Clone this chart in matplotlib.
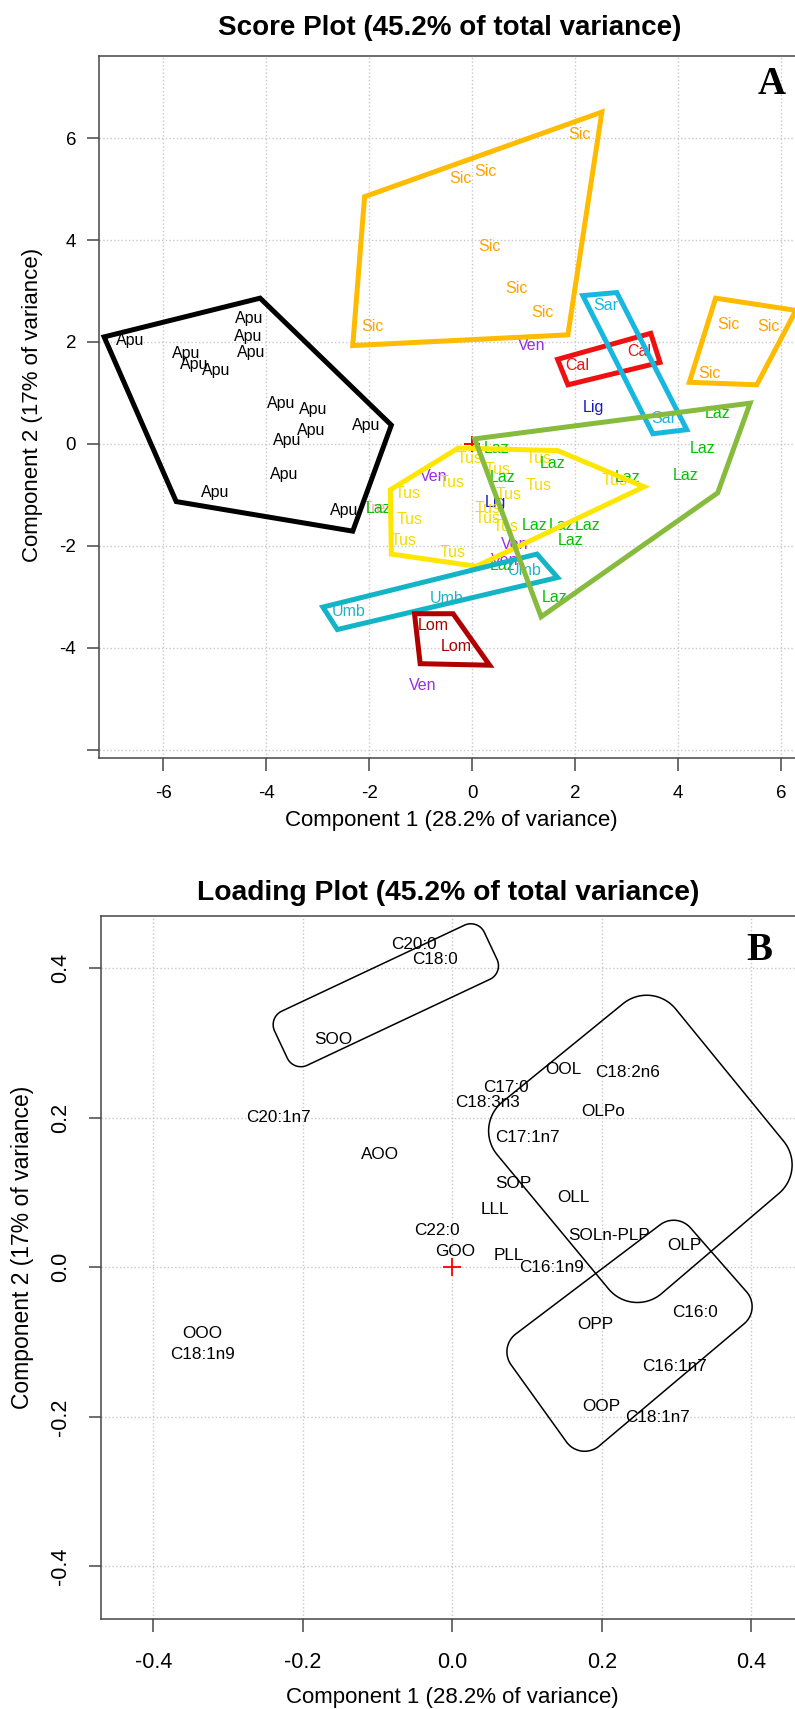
import numpy as np
import matplotlib.pyplot as plt
from matplotlib.patches import Polygon

plt.rcParams['font.family'] = 'Liberation Sans'
plt.rcParams['axes.unicode_minus'] = False

# ---------------- Panel A : score plot ----------------
score_group = (['Apu'] * 15 + ['Sic'] * 10 + ['Sar'] * 2 + ['Cal'] * 2 + ['Tre']
               + ['Ven'] * 5 + ['Lig'] * 2 + ['Tus'] * 14 + ['Laz'] * 14
               + ['Umb'] * 3 + ['Lom'] * 2)
score_x = [-6.65, -4.33, -4.35, -4.29, -5.55, -5.41, -4.97, -3.71, -3.08, -3.13, -3.60, -2.06, -3.66, -5.00, -2.48,
           2.08, -0.22, 0.25, 0.33, 0.86, 1.37, -1.93, 4.98, 5.76, 4.61,
           2.60, 3.73,
           2.05, 3.24,
           -1.90,
           1.15, -0.75, 0.83, 0.63, -0.97,
           2.36, 0.45,
           -0.04, 1.29, 0.50, -0.40, 1.29, 0.70, 2.76, -1.25, -1.21, -1.33, -0.37, 0.31, 0.31, 0.66,
           4.77, 4.47, 4.15, 0.47, 1.57, 0.60, 3.02, 1.21, 1.73, 2.24, 1.92, 0.60, 1.60, -1.82,
           -2.40, -0.50, 1.02,
           -0.75, -0.30]
score_y = [2.03, 2.47, 2.10, 1.80, 1.78, 1.56, 1.44, 0.80, 0.67, 0.26, 0.06, 0.37, -0.59, -0.95, -1.30,
           6.07, 5.20, 5.34, 3.88, 3.05, 2.57, 2.30, 2.34, 2.30, 1.39,
           2.71, 0.49,
           1.53, 1.81,
           -1.26,
           1.94, -0.64, -1.98, -2.28, -4.73,
           0.72, -1.14,
           -0.28, -0.28, -0.50, -0.76, -0.81, -1.00, -0.71, -0.98, -1.49, -1.89, -2.12, -1.26, -1.46, -1.62,
           0.60, -0.09, -0.61, -0.08, -0.39, -0.65, -0.65, -1.60, -1.60, -1.60, -1.90, -2.38, -3.01, -1.26,
           -3.29, -3.03, -2.48,
           -3.57, -3.98]

# group hulls (vertices)
apu_hull_x = [-7.15, -4.12, -1.57, -2.32, -5.75]
apu_hull_y = [2.10, 2.86, 0.37, -1.71, -1.13]
sic_hull_x = [-2.09, 2.52, 1.86, -2.32]
sic_hull_y = [4.85, 6.51, 2.14, 1.93]
sic2_hull_x = [4.73, 6.29, 5.53, 4.22]
sic2_hull_y = [2.86, 2.62, 1.16, 1.21]
tus_hull_x = [-0.27, 1.66, 3.34, 0.08, -1.57, -1.59]
tus_hull_y = [-0.08, -0.13, -0.84, -2.40, -2.16, -0.90]
umb_hull_x = [-2.90, 1.26, 1.66, -2.62]
umb_hull_y = [-3.20, -2.16, -2.62, -3.64]
lom_hull_x = [-1.12, -0.37, 0.34, -1.01]
lom_hull_y = [-3.33, -3.33, -4.34, -4.31]
cal_hull_x = [1.66, 3.47, 3.65, 1.86]
cal_hull_y = [1.66, 2.17, 1.60, 1.16]
sar_hull_x = [2.15, 2.81, 4.17, 3.51]
sar_hull_y = [2.91, 2.97, 0.28, 0.20]
laz_hull_x = [0.05, 5.40, 4.77, 1.34]
laz_hull_y = [0.10, 0.80, -0.96, -3.39]

a_ticks = [-6, -4, -2, 0, 2, 4, 6]
a_yticklabels = ['', '-4', '-2', '0', '2', '4', '6']

# ---------------- Panel B : loading plot ----------------
loading_names = ['C20:0', 'C18:0', 'SOO', 'OOL', 'C18:2n6', 'C17:0', 'C18:3n3', 'OLPo', 'C20:1n7',
                 'C17:1n7', 'AOO', 'SOP', 'OLL', 'LLL', 'C22:0', 'SOLn-PLP', 'OLP', 'GOO', 'PLL',
                 'C16:1n9', 'C16:0', 'OPP', 'OOO', 'C18:1n9', 'C16:1n7', 'OOP', 'C18:1n7']
loading_x = [-0.052, -0.023, -0.159, 0.149, 0.235, 0.072, 0.047, 0.202, -0.232,
             0.100, -0.097, 0.081, 0.162, 0.057, -0.020, 0.209, 0.310, 0.004, 0.076,
             0.132, 0.325, 0.191, -0.334, -0.334, 0.297, 0.199, 0.275]
loading_y = [0.432, 0.412, 0.305, 0.265, 0.261, 0.240, 0.220, 0.208, 0.201,
             0.174, 0.151, 0.112, 0.094, 0.078, 0.049, 0.043, 0.029, 0.021, 0.016,
             0.000, -0.060, -0.076, -0.088, -0.117, -0.133, -0.186, -0.2015]

# rounded group outlines (inner corner points, rounded afterwards)
box1_x = [0.0247, 0.0417, -0.2027, -0.2197]
box1_y = [0.4396, 0.4034, 0.2884, 0.3246]
box2_x = [0.260, 0.4045, 0.2475, 0.0985]
box2_y = [0.314, 0.137, 0.003, 0.1825]
box3_x = [0.296, 0.371, 0.177, 0.103]
box3_y = [0.033, -0.0525, -0.216, -0.113]

b_ticks = [-0.4, -0.2, 0.0, 0.2, 0.4]
b_ticklabels = ['-0.4', '-0.2', '0.0', '0.2', '0.4']

origin_x = [0.0]
origin_y = [0.0]

text_col = {'Apu': 'black', 'Sic': '#FFA200', 'Sar': '#18B6E2', 'Cal': '#EE1111', 'Tre': '#FFAABB',
            'Ven': '#9A2EE6', 'Lig': '#1818C8', 'Tus': '#F5DC00', 'Laz': '#00C400',
            'Umb': '#1FB4C4', 'Lom': '#A80000'}

W, H = 795, 1709
fig = plt.figure(figsize=(W / 100, H / 100), dpi=100)


def style_axes(ax, labelsize):
    for sp in ax.spines.values():
        sp.set_color('#474747')
        sp.set_linewidth(1.1)
    ax.tick_params(direction='out', length=9, width=1.1, color='#474747', labelsize=labelsize)
    ax.grid(True, ls=':', color='#c8c8c8', lw=1.0)
    ax.set_axisbelow(True)


def rounded_outline(xs, ys, r, n=30):
    p = np.column_stack([xs, ys])
    area = 0.5 * np.sum(p[:, 0] * np.roll(p[:, 1], -1) - np.roll(p[:, 0], -1) * p[:, 1])
    if area < 0:
        p = p[::-1]
    pts = []
    for i in range(len(p)):
        d0 = p[i] - p[i - 1]
        d1 = p[(i + 1) % len(p)] - p[i]
        a0 = np.arctan2(-d0[0], d0[1])
        a1 = np.arctan2(-d1[0], d1[1])
        if a1 < a0:
            a1 += 2 * np.pi
        t = np.linspace(a0, a1, n)
        pts.append(p[i] + r * np.column_stack([np.cos(t), np.sin(t)]))
    return np.vstack(pts)


# ---- A ----
axA = fig.add_axes([99 / W, 1 - 758 / H, 746.3 / W, 702 / H])
style_axes(axA, 13.5)
axA.set_xlim(-7.25, 7.25)
axA.set_ylim(-6.16, 7.61)
axA.set_xticks(a_ticks)
axA.set_xticklabels([str(t) for t in a_ticks])
axA.set_yticks(a_ticks)
axA.set_yticklabels(a_yticklabels)
axA.tick_params(axis='x', pad=10.5)
axA.tick_params(axis='y', pad=7.5)

axA.plot(origin_x, origin_y, '+', color='red', ms=12, mew=1.4, zorder=2.5)
for g, x, y in zip(score_group, score_x, score_y):
    axA.text(x, y, g, color=text_col[g], fontsize=11.5, ha='center', va='center', zorder=3)

hulls = [(sic_hull_x, sic_hull_y, '#FFBB00'), (sic2_hull_x, sic2_hull_y, '#FFBB00'),
         (apu_hull_x, apu_hull_y, 'black'), (tus_hull_x, tus_hull_y, '#FFE600'),
         (umb_hull_x, umb_hull_y, '#12B4C6'), (lom_hull_x, lom_hull_y, '#B00000'),
         (cal_hull_x, cal_hull_y, '#EE1111'), (sar_hull_x, sar_hull_y, '#16B8E0'),
         (laz_hull_x, laz_hull_y, '#86BB3E')]
for hx, hy, c in hulls:
    axA.add_patch(Polygon(np.column_stack([hx, hy]), closed=True, fill=False, ec=c, lw=3.6,
                          joinstyle='miter', zorder=4))

fig.text(771.8 / W, 1 - 84 / H, 'A', fontsize=28, fontweight='bold',
         family='Liberation Serif', ha='center', va='center')
fig.text(449.6 / W, 1 - 28 / H, 'Score Plot (45.2% of total variance)', fontsize=20,
         fontweight='bold', ha='center', va='center')
fig.text(451 / W, 1 - 820 / H, 'Component 1 (28.2% of variance)', fontsize=16, ha='center', va='center')
fig.text(33 / W, 1 - 405 / H, 'Component 2 (17% of variance)', fontsize=16, ha='center', va='center',
         rotation=90)

# ---- B ----
axB = fig.add_axes([101 / W, 1 - 1618.7 / H, 702.7 / W, 702.7 / H])
style_axes(axB, 15.5)
axB.set_xlim(-0.47, 0.47)
axB.set_ylim(-0.47, 0.47)
axB.set_xticks(b_ticks)
axB.set_xticklabels(b_ticklabels)
axB.set_yticks(b_ticks)
axB.set_yticklabels(b_ticklabels, rotation=90, va='center')
axB.tick_params(axis='x', pad=15)
axB.tick_params(axis='y', pad=12.5)

for bx, by, r in [(box1_x, box1_y, 0.02), (box2_x, box2_y, 0.05), (box3_x, box3_y, 0.03)]:
    axB.add_patch(Polygon(rounded_outline(bx, by, r), closed=True, fill=False, ec='black', lw=1.1,
                          zorder=3))
for name, x, y in zip(loading_names, loading_x, loading_y):
    axB.text(x, y, name, fontsize=12.3, ha='center', va='center', zorder=4)
axB.plot(origin_x, origin_y, '+', color='red', ms=13, mew=1.3, zorder=5)

fig.text(759 / W, 1 - 950 / H, 'B', fontsize=28, fontweight='bold', family='Liberation Serif',
         ha='center', va='center')
fig.text(448 / W, 1 - 893 / H, 'Loading Plot (45.2% of total variance)', fontsize=20.3,
         fontweight='bold', ha='center', va='center')
fig.text(452.6 / W, 1 - 1698 / H, 'Component 1 (28.2% of variance)', fontsize=16, ha='center', va='center')
fig.text(23 / W, 1 - 1247 / H, 'Component 2 (17% of variance)', fontsize=16.5, ha='center', va='center',
         rotation=90)

fig.savefig('out.png', dpi=100)
